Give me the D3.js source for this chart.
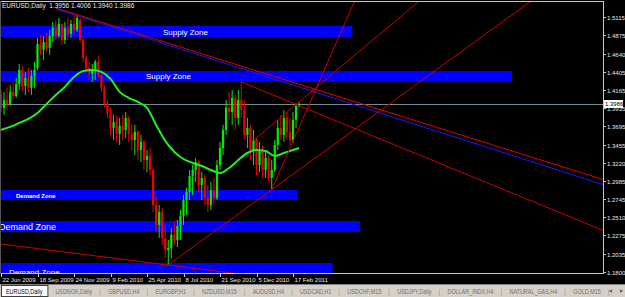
<!DOCTYPE html>
<html>
<head>
<meta charset="utf-8">
<script src="https://cdn.jsdelivr.net/npm/d3@7"></script>
<style>
  html, body { margin: 0; padding: 0; background: #000; }
  svg { display: block; font-family: "Liberation Sans", Arial, sans-serif; }
</style>
</head>
<body>
<svg id="chart" width="625" height="297"></svg>
<script>
// EURUSD daily bars, one slot per bar on the time axis
const opens = [
  1.4102, 1.3933, 1.4037, 1.3985, 1.4141, 1.4089, 1.4245, 1.4427, 1.4219, 1.4323,
  1.4193, 1.4349, 1.4453, 1.4765, 1.4687, 1.4791, 1.4713, 1.4869, 1.4973, 1.4869,
  1.5025, 1.4817, 1.4973, 1.4895, 1.5025, 1.4947, 1.5077, 1.4817, 1.4583, 1.4453,
  1.4375, 1.4427, 1.4531, 1.4362, 1.4193, 1.3985, 1.3855, 1.3673, 1.3751, 1.3595,
  1.3699, 1.3647, 1.3803, 1.3595, 1.3517, 1.3621, 1.3386, 1.3491, 1.3256, 1.3308,
  1.3126, 1.2671, 1.2411, 1.2580, 1.2242, 1.2086, 1.2112, 1.2281, 1.2216, 1.2398,
  1.2528, 1.2736, 1.2840, 1.3048, 1.3126, 1.3230, 1.2931, 1.3022, 1.2762, 1.2671,
  1.2866, 1.2762, 1.3191, 1.3412, 1.3647, 1.3933, 1.3881, 1.4063, 1.3803, 1.4037,
  1.3907, 1.3582, 1.3673, 1.3386, 1.3517, 1.3191, 1.3386, 1.3126, 1.3282, 1.3022,
  1.3126, 1.3452, 1.3673, 1.3582, 1.3803, 1.3621, 1.3517, 1.3777, 1.3956
];
const highs = [
  1.4167, 1.4141, 1.4193, 1.4232, 1.4271, 1.4323, 1.4505, 1.4479, 1.4401, 1.4453,
  1.4427, 1.4531, 1.4843, 1.4882, 1.4869, 1.4908, 1.4947, 1.5051, 1.5077, 1.5103,
  1.5025, 1.5051, 1.5103, 1.5077, 1.5129, 1.5155, 1.5103, 1.4843, 1.4622, 1.4531,
  1.4505, 1.4557, 1.4609, 1.4427, 1.4232, 1.4037, 1.3933, 1.3842, 1.3829, 1.3803,
  1.3842, 1.3881, 1.3829, 1.3725, 1.3712, 1.3647, 1.3582, 1.3517, 1.3386, 1.3412,
  1.3152, 1.2788, 1.2671, 1.2632, 1.2411, 1.2216, 1.2372, 1.2450, 1.2476, 1.2606,
  1.2801, 1.2892, 1.3126, 1.3191, 1.3282, 1.3256, 1.3100, 1.3061, 1.2931, 1.2970,
  1.3022, 1.3256, 1.3491, 1.3712, 1.4037, 1.4141, 1.4167, 1.4102, 1.4167, 1.4271,
  1.4037, 1.3803, 1.3712, 1.3647, 1.3543, 1.3491, 1.3452, 1.3386, 1.3321, 1.3256,
  1.3517, 1.3777, 1.3842, 1.3907, 1.3881, 1.3803, 1.3881, 1.3985, 1.4006
];
const lows = [
  1.3881, 1.3842, 1.3907, 1.3959, 1.4037, 1.4063, 1.4167, 1.4141, 1.4102, 1.4141,
  1.4102, 1.4193, 1.4427, 1.4622, 1.4557, 1.4661, 1.4622, 1.4791, 1.4817, 1.4843,
  1.4752, 1.4765, 1.4817, 1.4843, 1.4895, 1.4921, 1.4791, 1.4531, 1.4401, 1.4297,
  1.4271, 1.4297, 1.4323, 1.4141, 1.3933, 1.3803, 1.3582, 1.3517, 1.3491, 1.3452,
  1.3517, 1.3543, 1.3491, 1.3386, 1.3321, 1.3256, 1.3230, 1.3126, 1.3100, 1.3061,
  1.2580, 1.2320, 1.2242, 1.2151, 1.1982, 1.1891, 1.1982, 1.2151, 1.2125, 1.2216,
  1.2411, 1.2541, 1.2736, 1.2801, 1.2970, 1.2840, 1.2736, 1.2671, 1.2580, 1.2606,
  1.2671, 1.2736, 1.3126, 1.3321, 1.3582, 1.3777, 1.3712, 1.3647, 1.3712, 1.3803,
  1.3517, 1.3412, 1.3256, 1.3191, 1.3061, 1.3100, 1.3022, 1.3022, 1.2970, 1.2870,
  1.3100, 1.3386, 1.3517, 1.3491, 1.3517, 1.3452, 1.3478, 1.3673, 1.3940
];
const closes = [
  1.3933, 1.4037, 1.3985, 1.4141, 1.4089, 1.4245, 1.4427, 1.4219, 1.4323, 1.4193,
  1.4349, 1.4427, 1.4765, 1.4687, 1.4791, 1.4713, 1.4869, 1.4973, 1.4869, 1.5025,
  1.4817, 1.4973, 1.4895, 1.5025, 1.4947, 1.5103, 1.4817, 1.4583, 1.4453, 1.4375,
  1.4427, 1.4531, 1.4362, 1.4193, 1.3985, 1.3855, 1.3673, 1.3751, 1.3595, 1.3699,
  1.3647, 1.3803, 1.3595, 1.3517, 1.3621, 1.3386, 1.3491, 1.3256, 1.3308, 1.3126,
  1.2671, 1.2411, 1.2580, 1.2242, 1.2086, 1.2112, 1.2281, 1.2216, 1.2398, 1.2528,
  1.2736, 1.2840, 1.3048, 1.3126, 1.3230, 1.2931, 1.3022, 1.2762, 1.2671, 1.2866,
  1.2762, 1.3191, 1.3412, 1.3647, 1.3933, 1.3881, 1.4063, 1.3803, 1.4037, 1.3907,
  1.3582, 1.3673, 1.3386, 1.3517, 1.3191, 1.3386, 1.3126, 1.3282, 1.3022, 1.3126,
  1.3452, 1.3673, 1.3582, 1.3803, 1.3621, 1.3517, 1.3777, 1.3956, 1.3986
];

// moving average, read every third bar
const maBars = [0, 3, 6, 9, 12, 15, 18, 21, 24, 27, 30, 33, 36, 39, 42, 45, 48,
  51, 54, 57, 60, 63, 66, 69, 72, 75, 78, 81, 84, 87, 90, 93, 96, 98];
const maValues = [
  1.3647, 1.3686, 1.3738, 1.3790, 1.3868, 1.3985, 1.4102, 1.4206, 1.4336, 1.4414,
  1.4427, 1.4401, 1.4310, 1.4141, 1.4063, 1.4011, 1.3933, 1.3712, 1.3504, 1.3360,
  1.3269, 1.3217, 1.3178, 1.3126, 1.3087, 1.3152, 1.3256, 1.3347, 1.3386, 1.3373,
  1.3308, 1.3347, 1.3386, 1.3412
];

const dateLabels = ['22 Jun 2009', '18 Sep 2009', '24 Nov 2009', '9 Feb 2010', '25 Apr 2010',
  '8 Jul 2010', '21 Sep 2010', '5 Dec 2010', '17 Feb 2011'];
const dateBars = [0, 12, 24, 36, 48, 60, 72, 84, 96];

const priceTicks = [1.5115, 1.4875, 1.4640, 1.4405, 1.4165, 1.3935, 1.3695, 1.3455,
  1.3220, 1.2985, 1.2745, 1.2510, 1.2275, 1.2035, 1.1800];

const symbol = 'EURUSD,Daily';
const lastQuote = [1.3956, 1.4006, 1.3940, 1.3986];

// rectangle objects (price band, last bar)
const zoneNames = ['Supply Zone', 'Supply Zone', 'Demand Zone', 'Demand Zone', 'Demand Zone'];
const zoneHigh = [1.5000, 1.4414, 1.2866, 1.2463, 1.1917];
const zoneLow = [1.4856, 1.4271, 1.2736, 1.2320, 1.1650];
const zoneEndBar = [115.5, 168, 97.5, 118, 109];

// trend line objects: [bar, price] anchors
const lineStart = [[18, 1.5233], [18, 1.5220], [79, 1.4271], [55, 1.1891], [89, 1.2870], [82, 1.3480], [0, 1.2164]];
const lineEnd = [[167, 1.3386], [162.5, 1.3386], [150, 1.3119], [89, 1.2870], [96, 1.3500], [138, 1.5340], [55, 1.1891]];

const tabNames = ['EURUSD,Daily', 'USDNOK,Daily', 'GBPUSD,H4', 'EURGBP,H1', 'NZDUSD,M15', 'AUDUSD,H4',
  'USDCAD,H1', 'USDCHF,M15', 'USDJPY,Daily', 'DOLLAR_INDX,H4', 'NATURAL_GAS,H4', 'GOLD,M15'];

// ---- drawing ----
const svg = d3.select('#chart');
const plotRight = 603;
const plotTop = 2;
const plotBottom = 273;

const x = d3.scaleLinear().domain([0, 96]).range([1, 293]);
const y = d3.scaleLinear().domain([1.18, 1.5115]).range([272, 17]);

svg.append('rect').attr('width', 625).attr('height', 297).attr('fill', '#000');

svg.append('clipPath').attr('id', 'plot')
  .append('rect')
  .attr('x', 0).attr('y', plotTop)
  .attr('width', plotRight).attr('height', plotBottom - plotTop);

const plot = svg.append('g').attr('clip-path', 'url(#plot)');

// zones
const zoneStyle = [
  { lx: 163, ly: 35, size: 8, weight: 'normal' },
  { lx: 146, ly: 79, size: 8, weight: 'normal' },
  { lx: 16, ly: 198, size: 6, weight: 'bold' },
  { lx: -1, ly: 230, size: 9, weight: 'normal' },
  { lx: 9, ly: 275, size: 8, weight: 'normal' }
];
zoneNames.forEach((name, i) => {
  plot.append('rect')
    .attr('x', x(-10))
    .attr('y', y(zoneHigh[i]))
    .attr('width', x(zoneEndBar[i]) - x(-10))
    .attr('height', y(zoneLow[i]) - y(zoneHigh[i]))
    .attr('fill', '#0000ff');
  plot.append('text')
    .attr('x', zoneStyle[i].lx)
    .attr('y', zoneStyle[i].ly)
    .attr('font-size', zoneStyle[i].size)
    .attr('font-weight', zoneStyle[i].weight)
    .attr('fill', '#ffffff')
    .text(name);
});

// current price line
plot.append('line')
  .attr('x1', 0).attr('x2', plotRight)
  .attr('y1', Math.round(y(lastQuote[3])) + 0.5)
  .attr('y2', Math.round(y(lastQuote[3])) + 0.5)
  .attr('stroke', '#778899').attr('stroke-width', 1);

// candles
const bars = d3.range(opens.length);
const candle = plot.append('g').selectAll('g')
  .data(bars)
  .enter()
  .append('g');

const barColor = i => closes[i] >= opens[i] ? '#00ee00' : '#ee0000';

candle.append('line')
  .attr('x1', i => x(i)).attr('x2', i => x(i))
  .attr('y1', i => y(highs[i])).attr('y2', i => y(lows[i]))
  .attr('stroke', barColor).attr('stroke-width', 1);

candle.append('rect')
  .attr('x', i => x(i) - 1.1)
  .attr('width', 2.2)
  .attr('y', i => y(Math.max(opens[i], closes[i])))
  .attr('height', i => Math.max(1, Math.abs(y(opens[i]) - y(closes[i]))))
  .attr('fill', barColor);

// moving average
const maLine = d3.line()
  .x((d, k) => x(maBars[k]))
  .y(d => y(d))
  .curve(d3.curveMonotoneX);

plot.append('path')
  .datum(maValues)
  .attr('fill', 'none')
  .attr('stroke', '#22ee22')
  .attr('stroke-width', 2)
  .attr('d', maLine);

// trend lines
const lineStroke = ['#e00000', '#1a1aff', '#cc0000', '#cc0000', '#cc0000', '#cc0000', '#cc0000'];
lineStart.forEach((p, i) => {
  const q = lineEnd[i];
  const x0 = x(p[0]), y0 = y(p[1]);
  const slope = (y(q[1]) - y0) / (x(q[0]) - x0);
  const xa = i === 6 ? -10 : x0;
  const xb = plotRight;
  plot.append('line')
    .attr('x1', xa).attr('y1', y0 + slope * (xa - x0))
    .attr('x2', xb).attr('y2', y0 + slope * (xb - x0))
    .attr('stroke', lineStroke[i]).attr('stroke-width', 1);
});

// frame
const frame = '#c8c8c8';
svg.append('line').attr('x1', 0).attr('x2', plotRight + 0.5).attr('y1', 1.5).attr('y2', 1.5).attr('stroke', frame);
svg.append('line').attr('x1', plotRight + 0.5).attr('x2', plotRight + 0.5).attr('y1', 1).attr('y2', plotBottom + 1).attr('stroke', frame);
svg.append('line').attr('x1', 0).attr('x2', plotRight + 0.5).attr('y1', plotBottom + 0.5).attr('y2', plotBottom + 0.5).attr('stroke', frame);
svg.append('line').attr('x1', 0.5).attr('x2', 0.5).attr('y1', 1).attr('y2', plotBottom + 1).attr('stroke', '#555');

// price axis
const pAxis = svg.append('g').attr('font-size', 6).attr('fill', '#e8e8e8');
priceTicks.forEach(p => {
  const py = Math.round(y(p)) + 0.5;
  pAxis.append('line').attr('x1', plotRight).attr('x2', plotRight + 3)
    .attr('y1', py).attr('y2', py).attr('stroke', frame);
  pAxis.append('text').attr('x', 607).attr('y', py + 2).text(p.toFixed(4));
});

// last price marker
const lastY = Math.round(y(lastQuote[3]));
svg.append('rect').attr('x', 604).attr('y', lastY - 4).attr('width', 19).attr('height', 8)
  .attr('fill', '#ffffff');
svg.append('text').attr('x', 605).attr('y', lastY + 2).attr('font-size', 6).attr('fill', '#000')
  .text(lastQuote[3].toFixed(4));

// date axis
const dAxis = svg.append('g').attr('font-size', 6).attr('fill', '#e8e8e8');
dateLabels.forEach((label, i) => {
  const dx = Math.round(x(dateBars[i])) + 0.5;
  dAxis.append('line').attr('x1', dx).attr('x2', dx).attr('y1', plotBottom).attr('y2', plotBottom + 4)
    .attr('stroke', frame);
  dAxis.append('text').attr('x', dx + 1).attr('y', 282).text(label);
});

// header
svg.append('text').attr('x', 2).attr('y', 8).attr('font-size', 6.5).attr('fill', '#e8e8e8')
  .attr('xml:space', 'preserve')
  .text(symbol + '  ' + lastQuote.map(v => v.toFixed(4)).join(' '));

// tab bar (text squeezed to the narrow UI font of the terminal)
const tabs = svg.append('g').attr('font-size', 6.3);
tabs.append('rect').attr('x', 0).attr('y', 284).attr('width', 625).attr('height', 13).attr('fill', '#d4d0c8');
tabs.append('line').attr('x1', 0).attr('x2', 625).attr('y1', 284.5).attr('y2', 284.5).attr('stroke', '#808080');
let tx = 6;
tabNames.forEach((name, i) => {
  const t = tabs.append('text').attr('x', tx).attr('y', 293.5)
    .attr('fill', i === 0 ? '#000' : '#707070').text(name);
  const w = t.node().getComputedTextLength() * 0.86;
  t.attr('textLength', w).attr('lengthAdjust', 'spacingAndGlyphs');
  if (i === 0) {
    tabs.insert('rect', 'text')
      .attr('x', 1.5).attr('y', 285.5).attr('width', w + 10).attr('height', 11)
      .attr('fill', '#ffffff').attr('stroke', '#404040');
  } else {
    tabs.append('text').attr('x', tx + w + 7).attr('y', 293.5).attr('fill', '#909090').text('|');
  }
  tx += w + (i === 0 ? 13 : 16);
});
const arrow = d3.symbol().type(d3.symbolTriangle).size(6);
tabs.append('path').attr('d', arrow).attr('fill', '#606060')
  .attr('transform', 'translate(611,291) rotate(-90)');
tabs.append('path').attr('d', arrow).attr('fill', '#606060')
  .attr('transform', 'translate(621,291) rotate(90)');
</script>
</body>
</html>
